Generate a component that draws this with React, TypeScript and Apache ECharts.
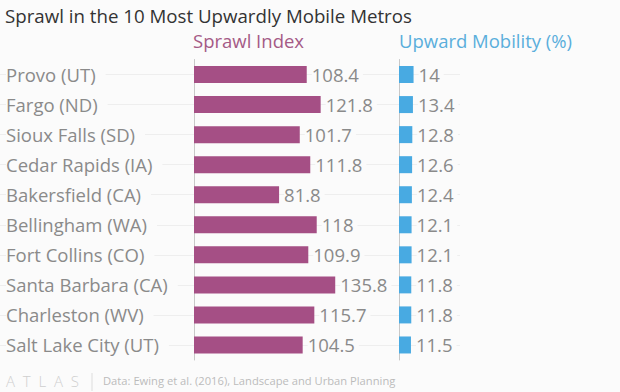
import React, { useEffect, useRef } from 'react';
import * as echarts from 'echarts';

const metros = [
  'Provo (UT)',
  'Fargo (ND)',
  'Sioux Falls (SD)',
  'Cedar Rapids (IA)',
  'Bakersfield (CA)',
  'Bellingham (WA)',
  'Fort Collins (CO)',
  'Santa Barbara (CA)',
  'Charleston (WV)',
  'Salt Lake City (UT)',
];
const sprawlIndex = [108.4, 121.8, 101.7, 111.8, 81.8, 118, 109.9, 135.8, 115.7, 104.5];
const upwardMobility = [14, 13.4, 12.8, 12.6, 12.4, 12.1, 12.1, 11.8, 11.8, 11.5];

const titleText = 'Sprawl in the 10 Most Upwardly Mobile Metros';
const leftHeader = 'Sprawl Index';
const rightHeader = 'Upward Mobility (%)';
const sourceText = 'Data: Ewing et al. (2016), Landscape and Urban Planning';

const BG = '#fbfbfb';
const FONT = '"Open Sans", Roboto, sans-serif';
const PURPLE = '#a54f85';
const BLUE = '#48aae2';

export default function App() {
  const ref = useRef<HTMLDivElement>(null);
  useEffect(() => {
    document.body.style.margin = '0';
    if (!ref.current) return;
    const chart = echarts.init(ref.current, undefined, { renderer: 'svg' });
    const valueLabel = {
      show: true,
      position: 'right' as const,
      distance: 5,
      color: '#8a8a8a',
      fontSize: 18.5,
      fontFamily: FONT,
      backgroundColor: BG,
      padding: [0, 4, 0, 0],
    };
    chart.setOption({
      animation: false,
      backgroundColor: BG,
      textStyle: { fontFamily: FONT },
      grid: [
        { left: 194, top: 59.5, width: 187.2, height: 300.5 },
        { left: 399, top: 59.5, width: 104, height: 300.5 },
        { left: 0, top: 74.5, width: 460, height: 270.5 },
      ],
      xAxis: [
        { gridIndex: 0, type: 'value', min: 0, max: 180, show: false },
        { gridIndex: 1, type: 'value', min: 0, max: 100, show: false },
        { gridIndex: 2, type: 'value', min: 0, max: 1, show: false },
      ],
      yAxis: [
        {
          gridIndex: 0,
          type: 'category',
          data: metros,
          inverse: true,
          z: 3,
          axisLine: { show: true, lineStyle: { color: '#c8c8c8', width: 1 } },
          axisTick: { show: false },
          splitLine: { show: false },
          axisLabel: {
            show: true,
            align: 'left',
            margin: 188,
            color: '#8a8a8a',
            fontSize: 18.5,
            fontFamily: FONT,
            backgroundColor: BG,
            padding: [0, 10, 0, 0],
          },
        },
        {
          gridIndex: 1,
          type: 'category',
          data: metros,
          inverse: true,
          z: 3,
          axisLine: { show: true, lineStyle: { color: '#c8c8c8', width: 1 } },
          axisTick: { show: false },
          splitLine: { show: false },
          axisLabel: { show: false },
        },
        {
          gridIndex: 2,
          type: 'category',
          data: metros,
          inverse: true,
          boundaryGap: false,
          z: 0,
          axisLine: { show: false },
          axisTick: { show: false },
          axisLabel: { show: false },
          splitLine: { show: true, lineStyle: { color: '#eeeeee', width: 1 } },
        },
      ],
      series: [
        {
          type: 'bar',
          xAxisIndex: 0,
          yAxisIndex: 0,
          data: sprawlIndex,
          barWidth: 17,
          itemStyle: { color: PURPLE },
          label: valueLabel,
          z: 4,
        },
        {
          type: 'bar',
          xAxisIndex: 1,
          yAxisIndex: 1,
          data: upwardMobility,
          barWidth: 17,
          itemStyle: { color: BLUE },
          label: valueLabel,
          z: 4,
        },
      ],
      graphic: [
        {
          type: 'text',
          left: 5,
          top: 6,
          style: { text: titleText, fill: '#333333', fontSize: 18.7, fontFamily: FONT },
        },
        {
          type: 'text',
          left: 193,
          top: 31,
          style: { text: leftHeader, fill: '#a55a86', fontSize: 18.5, fontFamily: FONT },
        },
        {
          type: 'text',
          left: 399,
          top: 31,
          style: { text: rightHeader, fill: '#5aaedb', fontSize: 18.5, fontFamily: FONT },
        },
        {
          type: 'text',
          left: 6,
          top: 373,
          style: {
            text: 'A  T  L  A  S',
            fill: '#cfcfcf',
            fontSize: 15,
            fontWeight: 300,
            fontFamily: FONT,
          },
        },
        {
          type: 'line',
          shape: { x1: 92, y1: 373, x2: 92, y2: 391 },
          style: { stroke: '#dddddd', lineWidth: 1 },
        },
        {
          type: 'text',
          left: 103,
          top: 375,
          style: { text: sourceText, fill: '#bbbbbb', fontSize: 11.2, fontFamily: FONT },
        },
      ],
    });
    return () => chart.dispose();
  }, []);
  return <div ref={ref} style={{ width: 620, height: 392 }} />;
}
